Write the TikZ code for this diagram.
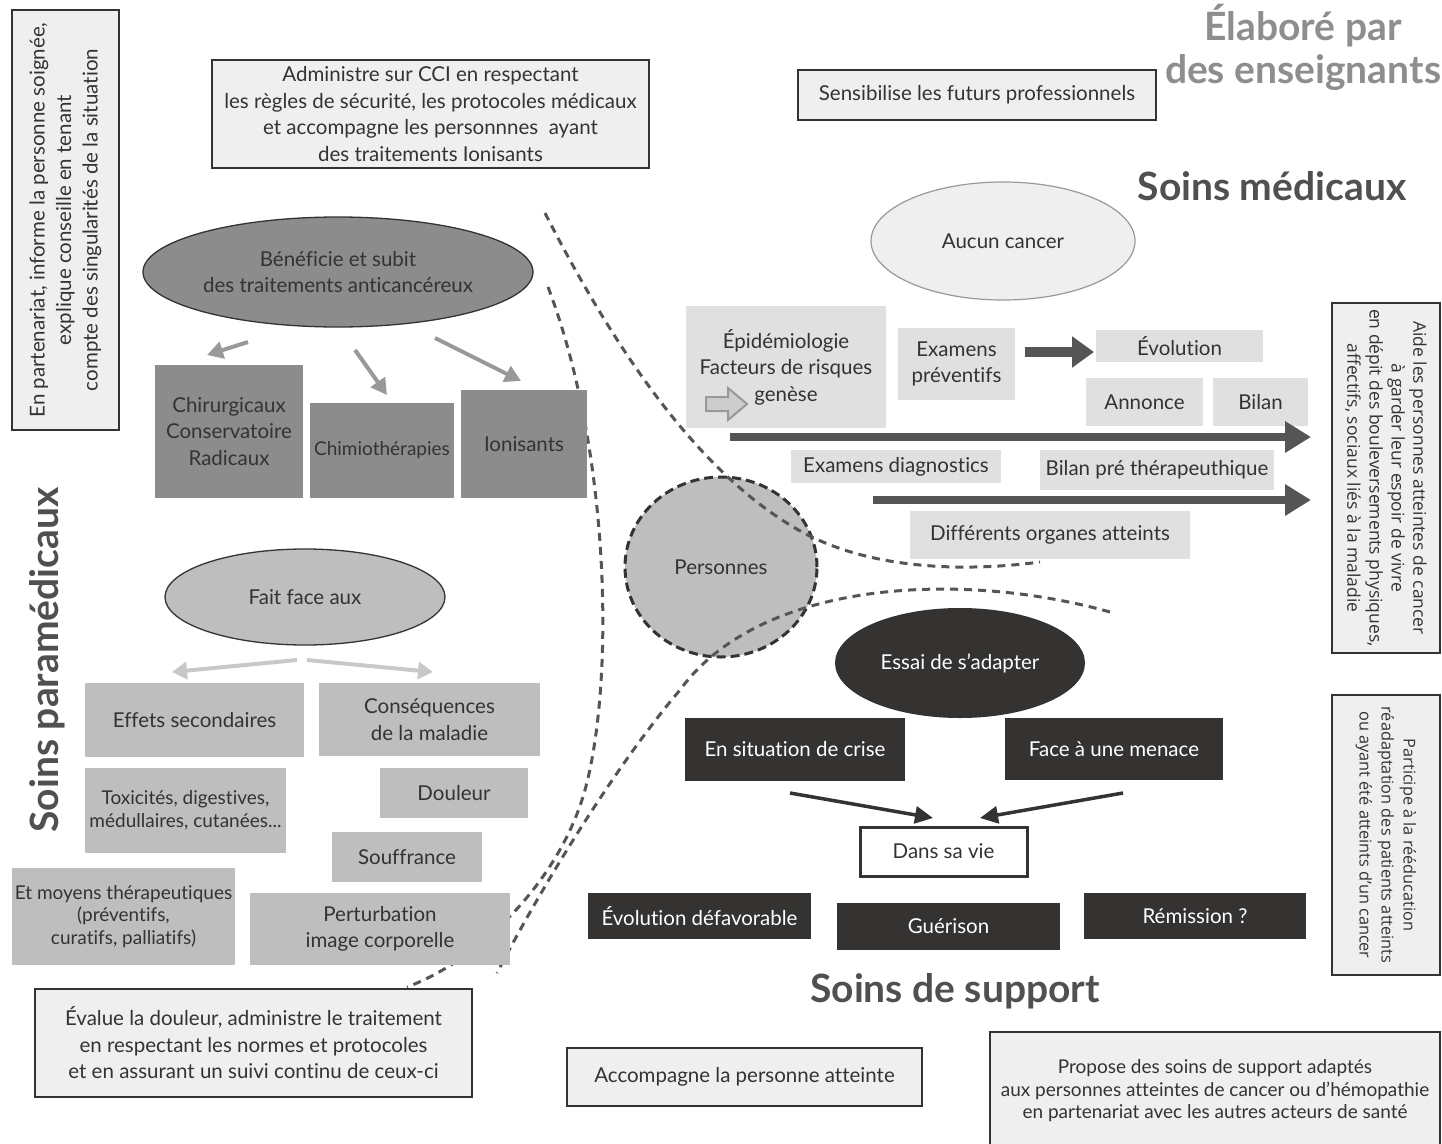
\documentclass[tikz,border=0pt]{standalone}
\usepackage{fontspec}
\setmainfont{Lato}[Ligatures=NoCommon]
\newfontfamily\osans{Open Sans}
\usetikzlibrary{arrows.meta,shapes.geometric}
\definecolor{boxlt}{HTML}{EFEFEF}
\definecolor{medlt}{HTML}{E0E0E0}
\definecolor{paralt}{HTML}{BEBEBE}
\definecolor{paradk}{HTML}{8C8C8C}
\definecolor{blk}{HTML}{353232}
\definecolor{txt}{HTML}{333333}
\definecolor{dashc}{HTML}{555555}
\definecolor{titc}{HTML}{505050}
\definecolor{titlt}{HTML}{8E8E8E}
\definecolor{arrgray}{HTML}{999999}
\definecolor{arrlt}{HTML}{C8C8C8}
\tikzset{
 every node/.style={text=txt, font=\fontsize{20.5}{26.5}\selectfont},
 framebox/.style={draw=txt, line width=1.5pt, fill=boxlt, align=center, inner sep=0pt},
 medbox/.style={fill=medlt, align=center, inner sep=0pt},
 parabox/.style={fill=paralt, align=center, inner sep=0pt},
 darkbox/.style={fill=paradk, align=center, inner sep=0pt},
 blkbox/.style={fill=blk, text=white, align=center, inner sep=0pt},
 title/.style={font=\fontsize{39}{43}\selectfont\bfseries, text=titc, align=center},
 sepline/.style={draw=dashc, line width=3pt, dash pattern=on 8pt off 6pt},
 grayarr/.style={draw=arrgray, line width=4pt, -{Triangle[width=17pt,length=16pt]}},
 ltarr/.style={draw=arrlt, line width=4pt, -{Triangle[width=17pt,length=15pt]}},
 darkarr/.style={draw=dashc, line width=8pt, -{Triangle[width=30pt,length=26pt]}},
 thickarr/.style={draw=dashc, line width=10pt, -{Triangle[width=30pt,length=22pt]}},
 blkarr/.style={draw=txt, line width=3.5pt, -{Triangle[width=17pt,length=18pt]}},
 smalltxt/.style={font=\fontsize{19}{22.5}\selectfont},
 midtxt/.style={font=\fontsize{19}{26}\selectfont},
 vtxt/.style={font=\osans\fontsize{17.5}{22}\selectfont},
 vtxtb/.style={font=\osans\fontsize{16.3}{22}\selectfont},
}
\begin{document}
\begin{tikzpicture}[x=1pt,y=-1pt]
\path[use as bounding box] (0,0) rectangle (1442,1143);
\fill[white] (0,0) rectangle (1442,1143);

% central circle
\node[ellipse, fill=paralt, draw=txt, line width=3pt, dash pattern=on 9pt off 5pt, minimum width=192, minimum height=180, inner sep=0pt] (pers) at (721,567) {Personnes};

% separating dashed curves
\draw[sepline] (545,213) .. controls (620,360) and (700,470) .. (790,525) .. controls (870,575) and (980,570) .. (1040,562);
\draw[sepline] (548,287) .. controls (610,450) and (615,680) .. (585,790) .. controls (560,880) and (480,960) .. (407,987);
\draw[sepline] (1110,612) .. controls (960,570) and (760,580) .. (680,690) .. controls (620,760) and (545,880) .. (497,973);

% titles
\node[title, text=titlt] (elab) at (1303,47) {Élaboré par\\des enseignants};
\node[title] (smed) at (1272,186) {Soins médicaux};
\node[title, rotate=90] (spara) at (47,660) {Soins paramédicaux};
\node[title] (ssup) at (955,991) {Soins de support};

% framed description boxes
\node[framebox, rotate=90, minimum width=420, minimum height=107] (vl) at (65.5,220) {En partenariat, informe la personne soignée,\\ explique conseille en tenant\\ compte des singularités de la situation};
\node[framebox, minimum width=437, minimum height=108] (adm) at (430.5,114) {Administre sur CCI en respectant\\ les règles de sécurité, les protocoles médicaux\\ et accompagne les personnnes\ \ ayant\\ des traitements Ionisants};
\node[framebox, minimum width=358, minimum height=50] (sens) at (977,95) {Sensibilise les futurs professionnels};
\node[framebox, minimum width=437, minimum height=108] (eval) at (253.5,1043) {Évalue la douleur, administre le traitement\\ en respectant les normes et protocoles\\ et en assurant un suivi continu de ceux-ci};
\node[framebox, minimum width=355, minimum height=58] (acc) at (744.5,1077) {Accompagne la personne atteinte};
\node[framebox, smalltxt, minimum width=450, minimum height=118] (prop) at (1215,1091) {Propose des soins de support adaptés\\ aux personnes atteintes de cancer ou d’hémopathie\\ en partenariat avec les autres acteurs de santé};
\node[framebox, vtxt, rotate=-90, minimum width=350, minimum height=108] (aide) at (1386,478) {Aide les personnes atteintes de cancer\\ à garder leur espoir de vivre\\ en dépit des bouleversements physiques,\\ affectifs, sociaux liés à la maladie};
\node[framebox, vtxtb, rotate=-90, minimum width=280, minimum height=108] (part) at (1386,835) {Participe à la rééducation\\ réadaptation des patients atteints\\ ou ayant été atteints d’un cancer};

% treatments (paramedical, top)
\node[ellipse, fill=paradk, draw=txt, line width=1.3pt, minimum width=390, minimum height=110, inner sep=0pt, align=center] (ben) at (338,272) {Bénéficie et subit\\ des traitements anticancéreux};
\node[darkbox, minimum width=148, minimum height=133] (chir) at (229,431.5) {Chirurgicaux\\ Conservatoire\\ Radicaux};
\node[darkbox, midtxt, minimum width=144, minimum height=95] (chim) at (382,450.5) {Chimiothérapies};
\node[darkbox, minimum width=126, minimum height=108] (ion) at (524,444) {Ionisants};
\coordinate (g1s) at (248,342); \coordinate (g1e) at (207,355);
\coordinate (g2s) at (355,350); \coordinate (g2e) at (387,395);
\coordinate (g3s) at (435,338); \coordinate (g3e) at (521,381);
\draw[grayarr] (g1s) -- (g1e);
\draw[grayarr] (g2s) -- (g2e);
\draw[grayarr] (g3s) -- (g3e);

% paramedical, bottom
\node[ellipse, fill=paralt, draw=txt, line width=1.3pt, minimum width=280, minimum height=96, inner sep=0pt] (fait) at (305,597) {Fait face aux};
\coordinate (l1s) at (297,660); \coordinate (l1e) at (172,672);
\coordinate (l2s) at (307,660); \coordinate (l2e) at (433,672);
\draw[ltarr] (l1s) -- (l1e);
\draw[ltarr] (l2s) -- (l2e);
\node[parabox, minimum width=219, minimum height=74] (eff) at (194.5,720) {Effets secondaires};
\node[parabox, minimum width=221, minimum height=73] (cons) at (429.5,719.5) {Conséquences\\ de la maladie};
\node[parabox, smalltxt, minimum width=201, minimum height=85] (tox) at (185.5,810.5) {Toxicités, digestives,\\ médullaires, cutanées...};
\node[parabox, minimum width=148, minimum height=50] (doul) at (454,793) {Douleur};
\node[parabox, minimum width=150, minimum height=50] (souf) at (407,857) {Souffrance};
\node[parabox, smalltxt, minimum width=223, minimum height=97] (moy) at (123.5,916.5) {Et moyens thérapeutiques\\ (préventifs,\\ curatifs, palliatifs)};
\node[parabox, minimum width=260, minimum height=72] (pert) at (380,929) {Perturbation\\ image corporelle};

% medical
\node[ellipse, fill=boxlt, draw=arrgray, line width=1.2pt, minimum width=264, minimum height=118, inner sep=0pt] (auc) at (1003,241) {Aucun cancer};
\node[medbox, minimum width=200, minimum height=122] (epi) at (786,367) {Épidémiologie\\ Facteurs de risques\\ genèse};
\filldraw[draw=arrgray, fill=medlt!80!gray, line width=2pt] (706,397) -- (728,397) -- (728,388) -- (747,404) -- (728,420) -- (728,411) -- (706,411) -- cycle;
\node[medbox, minimum width=117, minimum height=72] (exp) at (956.5,364) {Examens\\ préventifs};
\node[medbox, minimum width=167, minimum height=32] (evo) at (1179.5,346) {Évolution};
\node[medbox, minimum width=117, minimum height=48] (ann) at (1144.5,402) {Annonce};
\node[medbox, minimum width=95, minimum height=48] (bil) at (1260.5,402) {Bilan};
\node[medbox, minimum width=210, minimum height=33] (exd) at (896,466.5) {Examens diagnostics};
\node[medbox, minimum width=234, minimum height=40] (bpt) at (1157,470) {Bilan pré thérapeuthique};
\node[medbox, minimum width=280, minimum height=48] (org) at (1050,535) {Différents organes atteints};
\coordinate (d0s) at (1025,352); \coordinate (d0e) at (1094,352);
\draw[thickarr] (d0s) -- (d0e);
\coordinate (d1s) at (730,437); \coordinate (d1e) at (1311,437);
\coordinate (d2s) at (873,500); \coordinate (d2e) at (1311,500);
\draw[darkarr] (d1s) -- (d1e);
\draw[darkarr] (d2s) -- (d2e);

% support
\node[ellipse, fill=blk, text=white, minimum width=250, minimum height=110, inner sep=0pt] (ess) at (960,663) {Essai de s’adapter};
\node[blkbox, minimum width=220, minimum height=63] (cri) at (795,749.5) {En situation de crise};
\node[blkbox, minimum width=218, minimum height=62] (men) at (1114,749) {Face à une menace};
\node[draw=txt, line width=3pt, fill=white, minimum width=167, minimum height=49, inner sep=0pt] (vie) at (943.5,851.5) {Dans sa vie};
\coordinate (b1s) at (790,793); \coordinate (b1e) at (933,818);
\coordinate (b2s) at (1123,793); \coordinate (b2e) at (980,818);
\draw[blkarr] (b1s) -- (b1e);
\draw[blkarr] (b2s) -- (b2e);
\node[blkbox, minimum width=223, minimum height=46] (def) at (699.5,916) {Évolution défavorable};
\node[blkbox, minimum width=223, minimum height=47] (gue) at (948.5,926.5) {Guérison};
\node[blkbox, minimum width=222, minimum height=46] (rem) at (1195,916) {Rémission ?};
\end{tikzpicture}
\end{document}
